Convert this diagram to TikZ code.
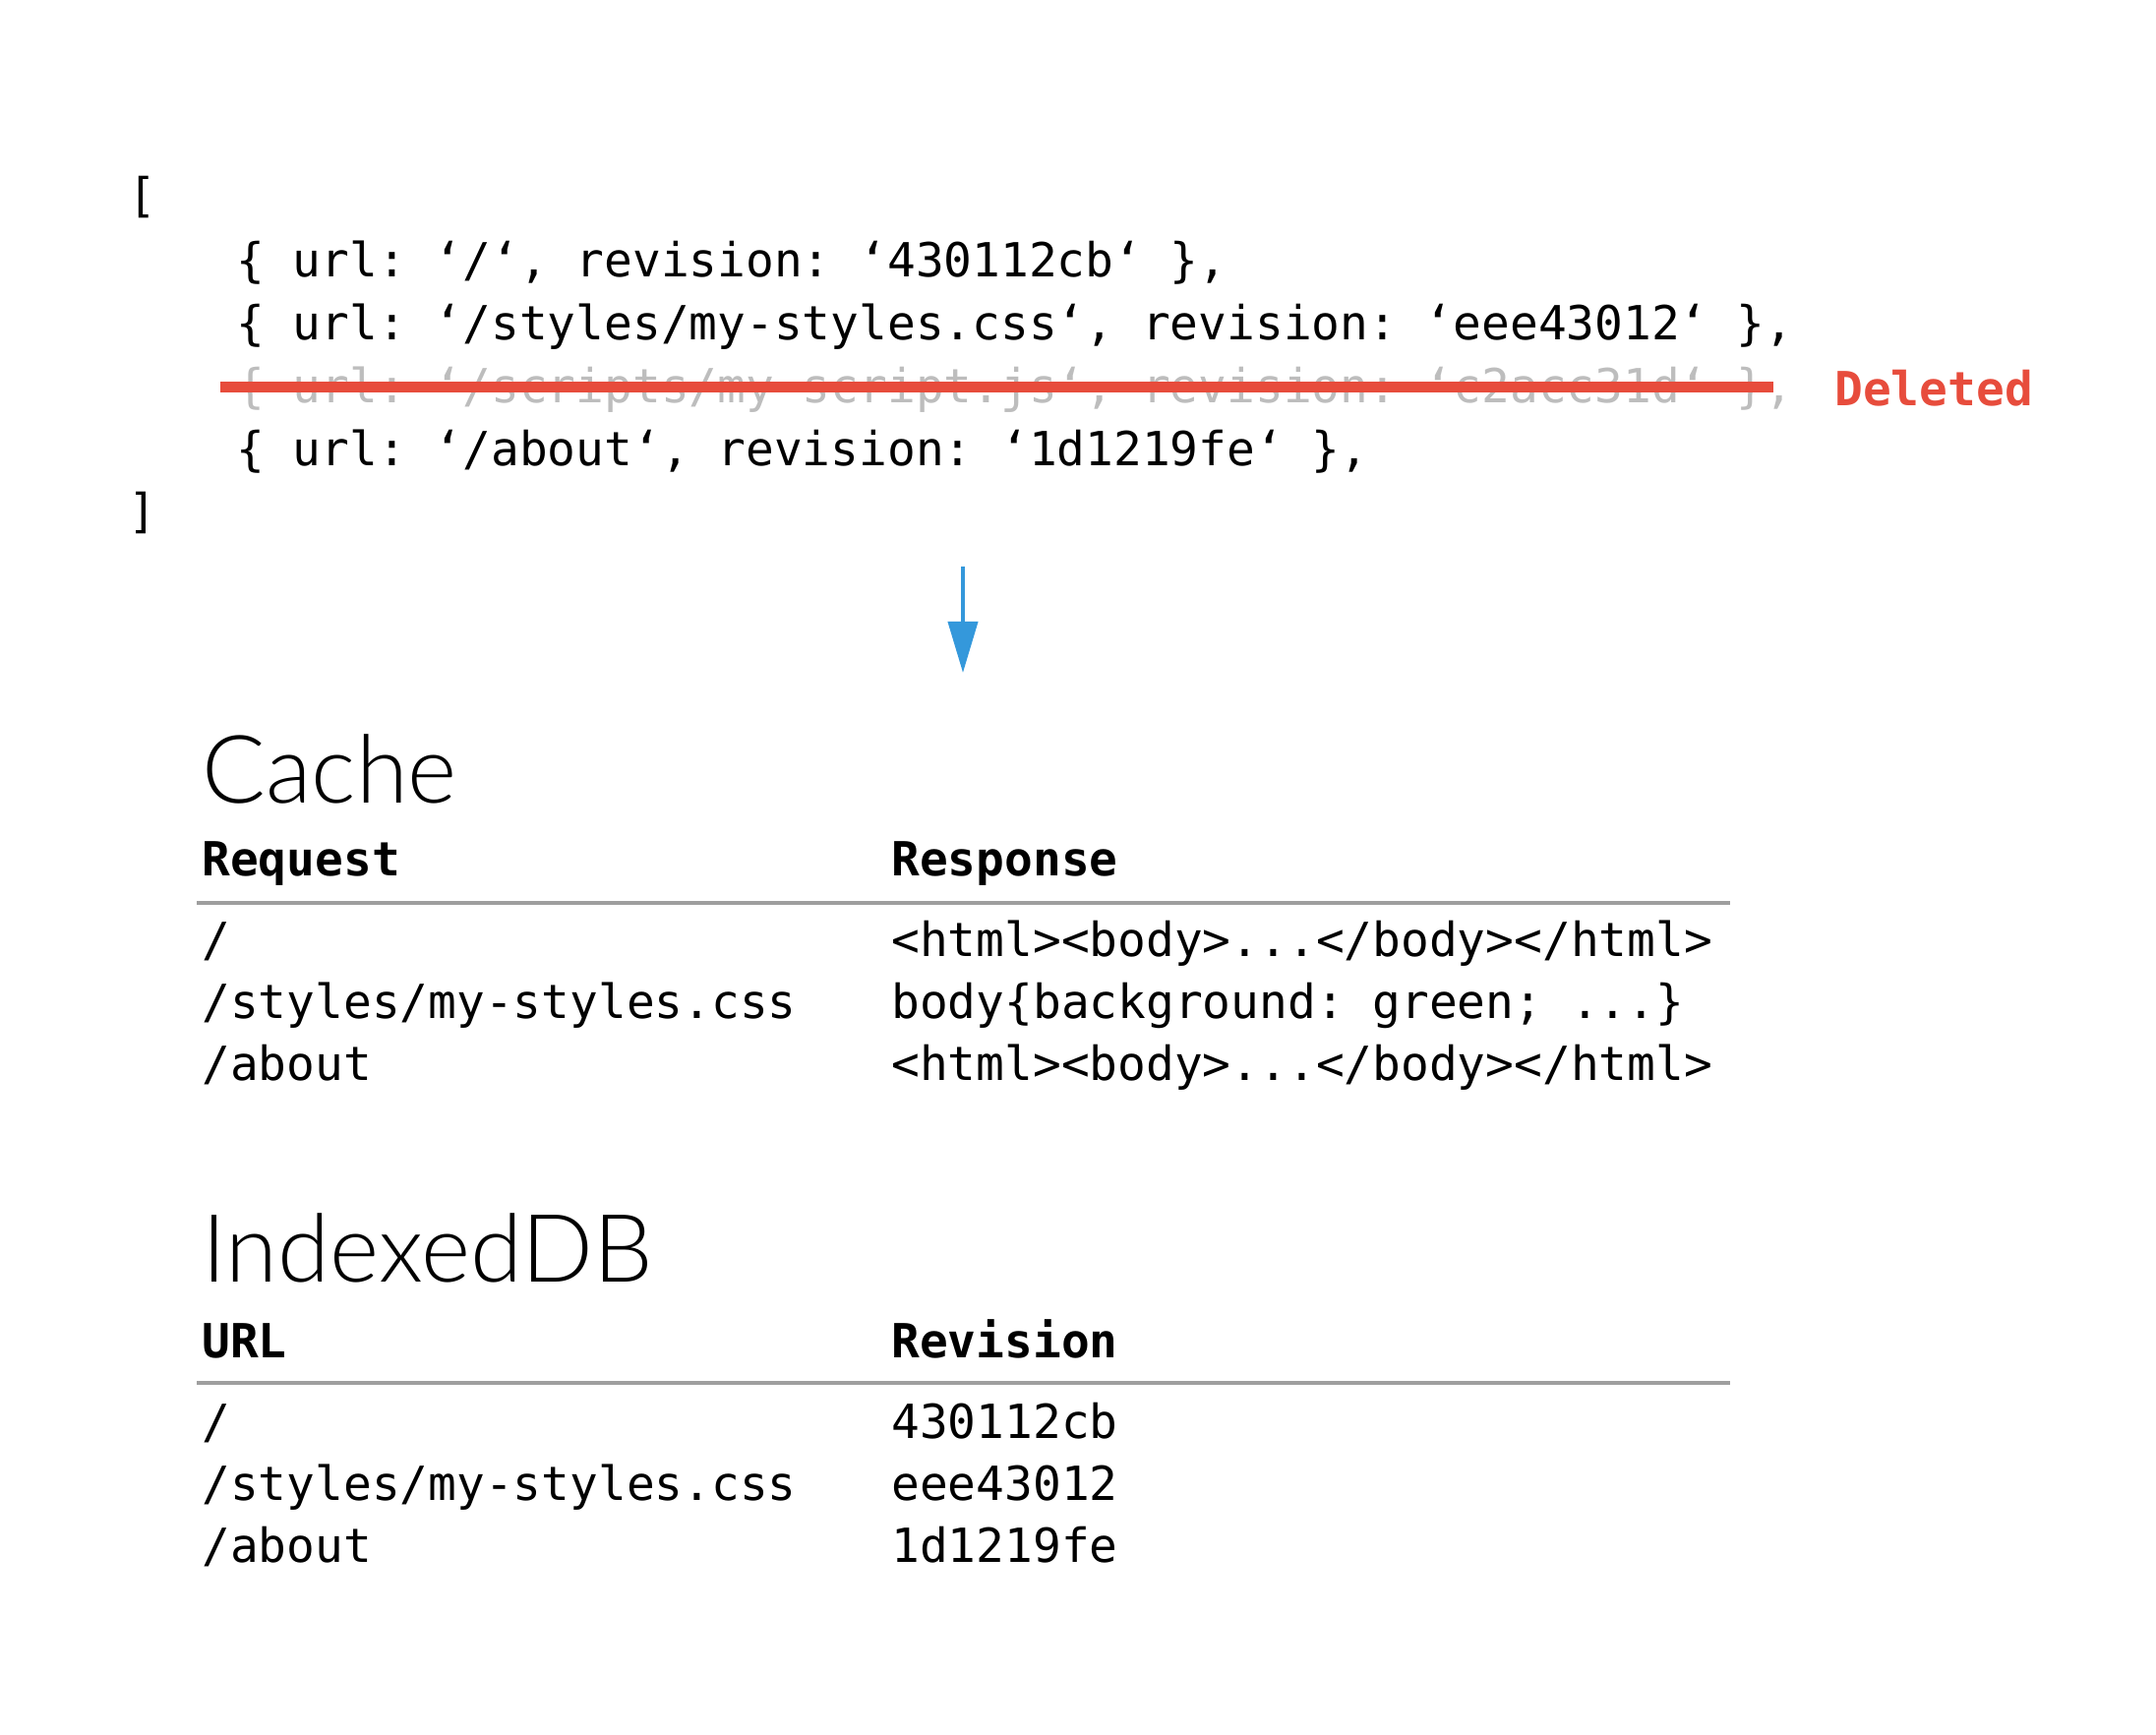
\documentclass[tikz,border=0pt]{standalone}
\usepackage{fontspec}
\setmonofont{DejaVu Sans Mono}
\newfontfamily\headfont{Lato Light}
\usetikzlibrary{arrows.meta}
\definecolor{delred}{RGB}{231,76,60}
\definecolor{delgray}{RGB}{189,189,189}
\definecolor{rulegray}{RGB}{158,158,158}
\definecolor{arrowblue}{RGB}{52,152,219}
\tikzset{
  code/.style={anchor=base west, inner sep=0pt, font=\ttfamily\fontsize{23.9pt}{28pt}\selectfont},
  codebold/.style={code, font=\ttfamily\bfseries\fontsize{23.9pt}{28pt}\selectfont},
  heading/.style={anchor=base west, inner sep=0pt, font=\headfont\fontsize{48pt}{56pt}\selectfont},
  tablerule/.style={draw=rulegray, line width=2pt},
}
\begin{document}
\begin{tikzpicture}[x=0.5pt, y=-0.5pt]
\useasboundingbox (0,0) rectangle (2192,1764);
% code block
\node[code] (open) at (130,216) {[};
\node[code] (l1) at (240,282) {\{ url: ‘/‘, revision: ‘430112cb‘ \},};
\node[code] (l2) at (240,346) {\{ url: ‘/styles/my-styles.css‘, revision: ‘eee43012‘ \},};
\node[code, text=delgray] (l3) at (240,410) {\{ url: ‘/scripts/my-script.js‘, revision: ‘c2acc31d‘ \},};
\node[code] (l4) at (240,474) {\{ url: ‘/about‘, revision: ‘1d1219fe‘ \},};
\node[code] (close) at (130,537) {]};
\coordinate (sA) at (224,394);
\coordinate (sB) at (1803,394);
\draw[delred, line width=5.5pt] (sA) -- (sB);
\node[codebold, text=delred] (del) at (1865,413) {Deleted};
% arrow
\coordinate (aA) at (979,576);
\coordinate (aB) at (979,684);
\draw[arrowblue, line width=2pt, -{Triangle[length=26pt,width=15pt]}] (aA) -- (aB);
% cache table
\node[heading] (cache) at (205,817) {Cache};
\node[codebold] (req) at (205,891) {Request};
\node[codebold] (resp) at (906,891) {Response};
\coordinate (r1a) at (200,918);
\coordinate (r1b) at (1759,918);
\draw[tablerule] (r1a) -- (r1b);
\node[code] (c11) at (205,973) {/};
\node[code] (c12) at (906,973) {<html><body>...</body></html>};
\node[code] (c21) at (205,1036) {/styles/my-styles.css};
\node[code] (c22) at (906,1036) {body\{background: green; ...\}};
\node[code] (c31) at (205,1099) {/about};
\node[code] (c32) at (906,1099) {<html><body>...</body></html>};
% indexeddb table
\node[heading] (idb) at (205,1303) {IndexedDB};
\node[codebold] (url) at (205,1380) {URL};
\node[codebold] (rev) at (906,1380) {Revision};
\coordinate (r2a) at (200,1406);
\coordinate (r2b) at (1759,1406);
\draw[tablerule] (r2a) -- (r2b);
\node[code] (d11) at (205,1462) {/};
\node[code] (d12) at (906,1462) {430112cb};
\node[code] (d21) at (205,1525) {/styles/my-styles.css};
\node[code] (d22) at (906,1525) {eee43012};
\node[code] (d31) at (205,1588) {/about};
\node[code] (d32) at (906,1588) {1d1219fe};
\end{tikzpicture}
\end{document}
